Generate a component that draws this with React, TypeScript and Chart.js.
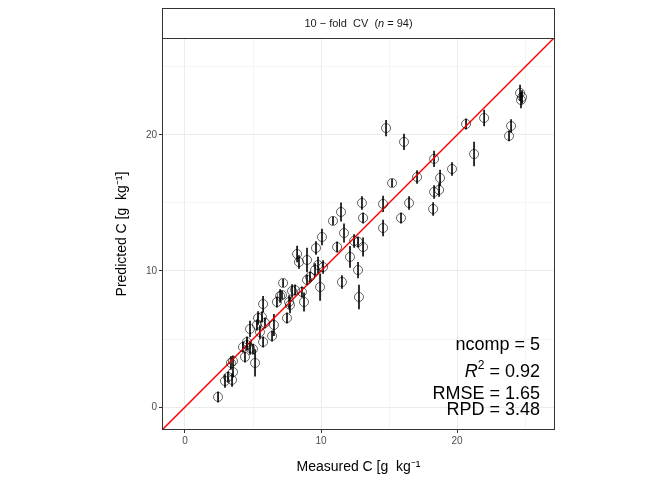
import React, { useEffect, useRef } from "react";
import { Chart, registerables } from "chart.js";
Chart.register(...registerables);

const measured = [2.43,2.94,3.16,3.46,3.53,3.38,3.53,4.41,4.26,4.56,4.78,5.0,5.15,4.56,4.78,5.37,5.66,5.29,5.51,5.88,5.74,6.40,6.54,5.74,6.76,6.99,7.13,7.21,7.5,7.65,7.87,8.09,7.72,8.75,8.6,8.97,9.19,9.56,9.78,9.93,10.15,8.38,8.24,8.97,9.63,10.07,11.18,11.54,12.13,11.69,12.43,12.72,13.09,12.72,12.79,11.47,10.88,13.01,13.09,14.56,14.56,15.22,14.78,16.1,15.88,16.47,17.06,18.31,18.75,18.68,18.31,18.24,19.63,20.66,21.99,21.25,23.97,23.82,24.63,24.78,24.7];
const predicted = [0.74,1.91,2.21,1.99,2.57,3.24,3.38,3.68,4.41,4.56,4.34,4.26,3.24,4.78,5.74,6.54,6.62,6.03,5.51,6.18,4.78,5.22,6.03,7.57,7.72,8.16,8.24,9.12,6.54,7.72,8.53,8.6,7.5,7.72,8.46,9.34,9.56,10.07,10.44,8.82,10.29,10.66,11.25,10.81,11.69,12.5,11.76,9.19,11.03,12.79,12.21,12.13,11.76,10.07,8.09,14.34,13.68,15.0,13.9,14.93,13.16,16.47,20.51,19.49,13.9,15.0,16.91,18.24,16.84,15.96,15.81,14.56,17.5,20.81,21.25,18.6,20.66,19.93,23.09,22.79,22.57];
const errors = [0.4,0.5,0.4,0.5,0.4,0.5,0.4,0.4,0.4,0.4,0.5,0.4,1.0,0.4,0.6,0.5,0.4,0.4,0.5,0.4,0.4,0.4,0.8,0.6,0.4,0.5,0.3,0.3,0.4,0.5,0.5,0.4,0.6,0.7,0.4,0.4,0.4,0.5,0.6,1.0,0.5,0.5,0.6,0.9,0.5,0.6,0.4,0.5,0.8,0.7,0.5,0.4,0.7,0.6,0.9,0.7,0.3,0.5,0.4,0.6,0.6,0.3,0.6,0.6,0.4,0.5,0.5,0.6,0.6,0.5,0.5,0.5,0.5,0.4,0.6,0.9,0.5,0.4,0.6,0.5,0.6];
const lineX = [-5, 30];
const xTicks = [0, 10, 20];
const yTicks = [0, 10, 20];
const minorTicks = [5, 15, 25];
const statsLines = ["ncomp = 5", "R2", "RMSE = 1.65", "RPD = 3.48"];
const FONT = "'Liberation Sans', Arial, sans-serif";

export default function App() {
  const ref = useRef<HTMLCanvasElement>(null);
  useEffect(() => {
    const errPlugin = {
      id: "extras",
      beforeDatasetsDraw(chart: any) {
        const { ctx, chartArea: a } = chart;
        ctx.save();
        // strip
        ctx.fillStyle = "#ffffff";
        ctx.strokeStyle = "#333333";
        ctx.lineWidth = 1;
        ctx.fillRect(a.left, 8, a.right - a.left, a.top - 8);
        ctx.strokeRect(a.left + 0.5, 8.5, a.right - a.left - 1, a.top - 8);
        ctx.fillStyle = "#1a1a1a";
        ctx.font = `11px ${FONT}`;
        const p1 = "10 \u2212 fold  CV  (";
        const p2 = "n";
        const p3 = " = 94)";
        ctx.font = `11px ${FONT}`;
        const w1 = ctx.measureText(p1).width, w3 = ctx.measureText(p3).width;
        ctx.font = `italic 11px ${FONT}`;
        const w2 = ctx.measureText(p2).width;
        let x = (a.left + a.right) / 2 - (w1 + w2 + w3) / 2;
        const ty = (8 + a.top) / 2 + 4;
        ctx.textAlign = "left";
        ctx.font = `11px ${FONT}`; ctx.fillText(p1, x, ty); x += w1;
        ctx.font = `italic 11px ${FONT}`; ctx.fillText(p2, x, ty); x += w2;
        ctx.font = `11px ${FONT}`; ctx.fillText(p3, x, ty);
        // error bars
        const xs = chart.scales.x, ys = chart.scales.y;
        ctx.beginPath();
        ctx.rect(a.left, a.top, a.right - a.left, a.bottom - a.top);
        ctx.clip();
        ctx.strokeStyle = "#000";
        ctx.lineWidth = 1.6;
        for (let i = 0; i < measured.length; i++) {
          const px = xs.getPixelForValue(measured[i]);
          ctx.beginPath();
          ctx.moveTo(px, ys.getPixelForValue(predicted[i] - errors[i]));
          ctx.lineTo(px, ys.getPixelForValue(predicted[i] + errors[i]));
          ctx.stroke();
        }
        ctx.restore();
      },
      afterDraw(chart: any) {
        const { ctx, chartArea: a } = chart;
        ctx.save();
        ctx.strokeStyle = "#333333";
        ctx.lineWidth = 1;
        ctx.strokeRect(a.left + 0.5, a.top + 0.5, a.right - a.left - 1, a.bottom - a.top - 1);
        ctx.fillStyle = "#000";
        ctx.textAlign = "right";
        ctx.font = `18px ${FONT}`;
        const rx = a.right - 15;
        ctx.fillText(statsLines[0], rx, 350);
        // R^2 line
        const rest = " = 0.92";
        const wr = ctx.measureText(rest).width;
        ctx.fillText(rest, rx, 377);
        ctx.font = `12px ${FONT}`;
        const w2 = ctx.measureText("2").width;
        ctx.textAlign = "left";
        ctx.fillText("2", rx - wr - w2, 369);
        ctx.font = `italic 18px ${FONT}`;
        ctx.textAlign = "right";
        ctx.fillText("R", rx - wr - w2, 377);
        ctx.font = `18px ${FONT}`;
        ctx.fillText(statsLines[2], rx, 399);
        ctx.fillText(statsLines[3], rx, 415);
        ctx.restore();
      },
    };
    const gridColor = (c: any) =>
      minorTicks.includes(c.tick?.value) ? "#F4F4F4" : "#EBEBEB";
    const tickCol = (c: any) => (minorTicks.includes(c.tick?.value) ? "rgba(0,0,0,0)" : "#333333");
    const chart = new Chart(ref.current!, {
      type: "scatter",
      data: {
        datasets: [
          {
            data: measured.map((m, i) => ({ x: m, y: predicted[i] })),
            pointRadius: 4.5,
            pointBackgroundColor: "rgba(0,0,0,0)",
            pointBorderColor: "rgba(0,0,0,0.6)",
            pointBorderWidth: 1,
          },
          {
            type: "line",
            data: lineX.map((v) => ({ x: v, y: v })),
            borderColor: "#ff0000",
            borderWidth: 1.5,
            pointRadius: 0,
            clip: 0 as any,
          } as any,
        ],
      },
      plugins: [errPlugin],
      options: {
        animation: false,
        responsive: false,
        maintainAspectRatio: false,
        layout: { padding: { left: 110, right: 117, top: 38, bottom: 0 } },
        plugins: { legend: { display: false }, tooltip: { enabled: false } },
        scales: {
          x: {
            type: "linear",
            min: -1.69,
            max: 27.2,
            afterBuildTicks: (s: any) => {
              s.ticks = [...xTicks, ...minorTicks].map((v) => ({ value: v }));
            },
            afterFit: (s: any) => { s.height = 50; },
            ticks: {
              callback: (v: any) => (xTicks.includes(v) ? String(v) : ""),
              color: "#4d4d4d",
              font: { size: 10, family: FONT },
              padding: 2,
              maxRotation: 0,
            },
            grid: { color: gridColor, tickColor: tickCol, tickLength: 3, drawOnChartArea: true },
            border: { display: false },
            title: { display: true, text: "Measured C [g  kg\u207B\u00B9", color: "#000", font: { size: 14, family: FONT }, padding: { top: 4 } },
          },
          y: {
            type: "linear",
            min: -1.69,
            max: 27.13,
            afterBuildTicks: (s: any) => {
              s.ticks = [...yTicks, ...minorTicks].map((v) => ({ value: v }));
            },
            afterFit: (s: any) => { s.width = 52; },
            ticks: {
              callback: (v: any) => (yTicks.includes(v) ? String(v) : ""),
              color: "#4d4d4d",
              font: { size: 10, family: FONT },
              padding: 2,
            },
            grid: { color: gridColor, tickColor: tickCol, tickLength: 3 },
            border: { display: false },
            title: { display: true, text: "Predicted C [g  kg\u207B\u00B9]", color: "#000", font: { size: 14, family: FONT }, padding: { bottom: 4 } },
          },
        },
      },
    });
    return () => chart.destroy();
  }, []);
  return (
    <div style={{ position: "fixed", left: 0, top: 0, width: 672, height: 480, background: "#fff" }}>
      <canvas ref={ref} width={672} height={480} style={{ width: 672, height: 480 }} />
    </div>
  );
}
